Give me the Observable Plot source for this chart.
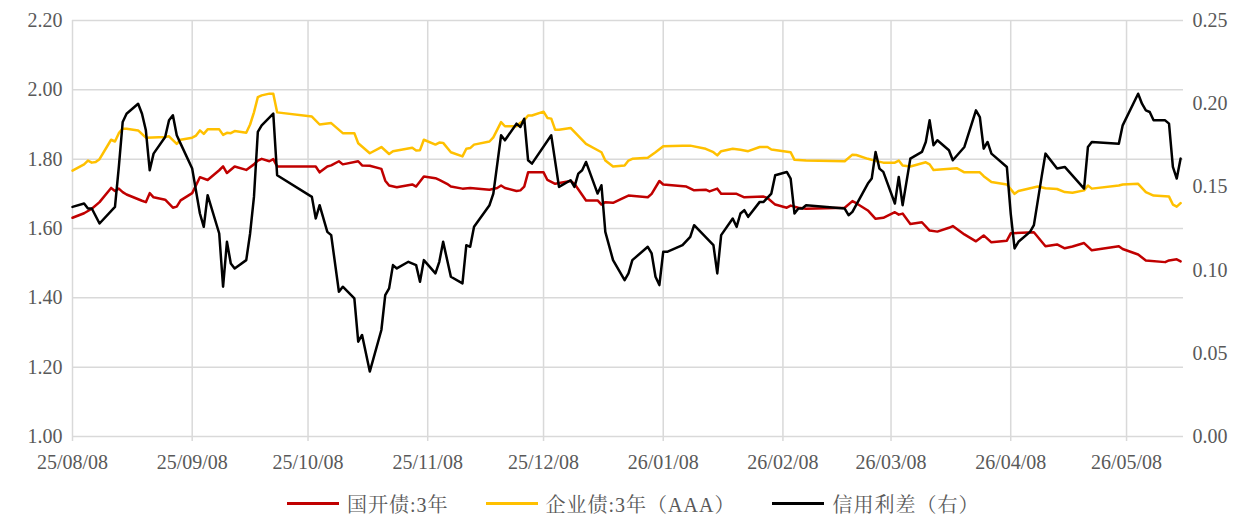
<!DOCTYPE html>
<html><head><meta charset="utf-8">
<script src="https://cdn.jsdelivr.net/npm/d3@7"></script>
<script src="https://cdn.jsdelivr.net/npm/@observablehq/plot@0.6"></script>
<style>
body{margin:0;background:#fff;}
#wrap{width:1240px;height:521px;position:relative;overflow:hidden;}
#chart svg text{font-family:"Liberation Serif","Times New Roman",serif !important;}
.legend{position:absolute;left:0;top:485px;width:1240px;height:36px;display:flex;align-items:center;padding-left:287px;box-sizing:border-box;
 font-family:"Liberation Serif","Noto Serif CJK SC","Noto Sans CJK SC",serif;font-size:20px;color:#595959;letter-spacing:1px;}
.item{display:flex;align-items:center;margin-right:37px;}
.sw{width:52px;height:3px;margin-right:8px;}
</style></head><body><div id="wrap"><div id="chart"></div><div class="legend" id="legend"></div></div>
<script>
const seriesNames = ["国开债:3年", "企业债:3年（AAA）", "信用利差（右）"];
const seriesColors = ["#c00000", "#ffc000", "#000000"];
const monthTicks = ["2025-08-08","2025-09-08","2025-10-08","2025-11-08","2025-12-08","2026-01-08","2026-02-08","2026-03-08","2026-04-08","2026-05-08"];
const leftTicks = [1.00,1.20,1.40,1.60,1.80,2.00,2.20];
const rightTicks = [0.00,0.05,0.10,0.15,0.20,0.25];

const cdbDates = ["2025-08-08","2025-08-11","2025-08-13","2025-08-15","2025-08-18","2025-08-19","2025-08-20","2025-08-21","2025-08-22","2025-08-26","2025-08-27","2025-08-28","2025-08-29","2025-09-01","2025-09-03","2025-09-04","2025-09-05","2025-09-08","2025-09-10","2025-09-12","2025-09-15","2025-09-16","2025-09-17","2025-09-19","2025-09-22","2025-09-24","2025-09-25","2025-09-26","2025-09-28","2025-09-29","2025-09-30","2025-10-09","2025-10-10","2025-10-11","2025-10-13","2025-10-14","2025-10-16","2025-10-17","2025-10-21","2025-10-22","2025-10-24","2025-10-27","2025-10-28","2025-10-29","2025-10-31","2025-11-04","2025-11-05","2025-11-07","2025-11-10","2025-11-11","2025-11-13","2025-11-14","2025-11-17","2025-11-19","2025-11-24","2025-11-26","2025-11-27","2025-11-28","2025-12-01","2025-12-02","2025-12-03","2025-12-04","2025-12-08","2025-12-09","2025-12-11","2025-12-15","2025-12-16","2025-12-19","2025-12-22","2025-12-23","2025-12-24","2025-12-26","2025-12-29","2025-12-30","2026-01-04","2026-01-05","2026-01-07","2026-01-08","2026-01-14","2026-01-16","2026-01-19","2026-01-20","2026-01-22","2026-01-23","2026-01-27","2026-01-29","2026-02-03","2026-02-04","2026-02-06","2026-02-09","2026-02-10","2026-02-12","2026-02-14","2026-02-24","2026-02-26","2026-02-27","2026-03-02","2026-03-04","2026-03-06","2026-03-09","2026-03-10","2026-03-11","2026-03-13","2026-03-16","2026-03-18","2026-03-20","2026-03-23","2026-03-24","2026-03-27","2026-03-30","2026-04-01","2026-04-03","2026-04-07","2026-04-08","2026-04-14","2026-04-17","2026-04-20","2026-04-22","2026-04-24","2026-04-27","2026-04-29","2026-05-06","2026-05-07","2026-05-11","2026-05-13","2026-05-18","2026-05-19","2026-05-21","2026-05-22"];
const cdbYield = [1.631,1.644,1.657,1.676,1.717,1.708,1.715,1.705,1.698,1.680,1.676,1.702,1.690,1.683,1.660,1.663,1.681,1.702,1.748,1.740,1.768,1.779,1.760,1.779,1.769,1.785,1.796,1.801,1.794,1.800,1.779,1.779,1.779,1.762,1.779,1.782,1.794,1.785,1.794,1.782,1.781,1.772,1.738,1.724,1.719,1.727,1.721,1.750,1.745,1.740,1.729,1.721,1.715,1.717,1.712,1.717,1.724,1.717,1.708,1.710,1.721,1.762,1.762,1.740,1.729,1.737,1.729,1.681,1.681,1.669,1.676,1.674,1.690,1.695,1.690,1.700,1.737,1.727,1.721,1.710,1.712,1.707,1.715,1.700,1.700,1.690,1.692,1.688,1.669,1.660,1.666,1.660,1.657,1.660,1.679,1.673,1.652,1.628,1.631,1.647,1.640,1.643,1.613,1.618,1.594,1.591,1.602,1.607,1.583,1.563,1.580,1.560,1.565,1.586,1.589,1.549,1.554,1.543,1.548,1.558,1.537,1.549,1.541,1.525,1.508,1.503,1.508,1.511,1.505];

const corpDates = ["2025-08-08","2025-08-11","2025-08-12","2025-08-13","2025-08-14","2025-08-15","2025-08-18","2025-08-19","2025-08-20","2025-08-21","2025-08-22","2025-08-25","2025-08-27","2025-09-01","2025-09-02","2025-09-04","2025-09-05","2025-09-08","2025-09-09","2025-09-10","2025-09-11","2025-09-12","2025-09-15","2025-09-16","2025-09-17","2025-09-18","2025-09-19","2025-09-22","2025-09-23","2025-09-24","2025-09-25","2025-09-26","2025-09-28","2025-09-29","2025-09-30","2025-10-09","2025-10-11","2025-10-14","2025-10-17","2025-10-20","2025-10-21","2025-10-24","2025-10-27","2025-10-29","2025-10-30","2025-11-04","2025-11-05","2025-11-06","2025-11-07","2025-11-10","2025-11-11","2025-11-12","2025-11-14","2025-11-17","2025-11-18","2025-11-19","2025-11-20","2025-11-24","2025-11-25","2025-11-27","2025-11-28","2025-12-01","2025-12-02","2025-12-03","2025-12-04","2025-12-05","2025-12-08","2025-12-09","2025-12-10","2025-12-11","2025-12-12","2025-12-15","2025-12-19","2025-12-23","2025-12-24","2025-12-26","2025-12-29","2025-12-30","2025-12-31","2026-01-04","2026-01-06","2026-01-08","2026-01-13","2026-01-15","2026-01-19","2026-01-21","2026-01-22","2026-01-23","2026-01-26","2026-01-28","2026-01-30","2026-02-02","2026-02-04","2026-02-05","2026-02-10","2026-02-11","2026-02-14","2026-02-24","2026-02-26","2026-02-27","2026-03-02","2026-03-04","2026-03-06","2026-03-09","2026-03-10","2026-03-11","2026-03-13","2026-03-17","2026-03-18","2026-03-19","2026-03-25","2026-03-27","2026-03-31","2026-04-01","2026-04-03","2026-04-07","2026-04-09","2026-04-10","2026-04-15","2026-04-17","2026-04-20","2026-04-22","2026-04-24","2026-04-27","2026-04-28","2026-04-29","2026-05-06","2026-05-07","2026-05-11","2026-05-13","2026-05-15","2026-05-19","2026-05-20","2026-05-21","2026-05-22"];
const corpYield = [1.767,1.785,1.796,1.790,1.792,1.800,1.856,1.851,1.875,1.888,1.888,1.883,1.862,1.864,1.866,1.844,1.856,1.862,1.868,1.883,1.873,1.886,1.886,1.870,1.876,1.875,1.881,1.876,1.900,1.935,1.979,1.984,1.989,1.989,1.935,1.923,1.900,1.904,1.875,1.875,1.846,1.817,1.835,1.815,1.823,1.833,1.825,1.826,1.856,1.842,1.848,1.847,1.820,1.808,1.830,1.832,1.842,1.851,1.863,1.907,1.895,1.895,1.905,1.912,1.926,1.926,1.937,1.919,1.917,1.885,1.885,1.890,1.844,1.820,1.796,1.779,1.782,1.796,1.801,1.804,1.820,1.837,1.839,1.839,1.830,1.820,1.811,1.823,1.830,1.827,1.823,1.835,1.835,1.828,1.820,1.798,1.796,1.794,1.813,1.812,1.801,1.795,1.790,1.790,1.796,1.782,1.779,1.791,1.785,1.769,1.774,1.762,1.762,1.751,1.734,1.727,1.700,1.708,1.721,1.716,1.714,1.705,1.703,1.710,1.724,1.715,1.724,1.727,1.729,1.705,1.695,1.692,1.669,1.663,1.673];

const spreadDates = ["2025-08-08","2025-08-11","2025-08-12","2025-08-13","2025-08-15","2025-08-19","2025-08-20","2025-08-21","2025-08-22","2025-08-25","2025-08-26","2025-08-27","2025-08-28","2025-08-29","2025-09-01","2025-09-02","2025-09-03","2025-09-04","2025-09-05","2025-09-08","2025-09-10","2025-09-11","2025-09-12","2025-09-15","2025-09-16","2025-09-17","2025-09-18","2025-09-19","2025-09-22","2025-09-23","2025-09-24","2025-09-25","2025-09-26","2025-09-29","2025-09-30","2025-10-09","2025-10-10","2025-10-11","2025-10-13","2025-10-14","2025-10-16","2025-10-17","2025-10-20","2025-10-21","2025-10-22","2025-10-24","2025-10-27","2025-10-28","2025-10-29","2025-10-30","2025-10-31","2025-11-03","2025-11-05","2025-11-06","2025-11-07","2025-11-10","2025-11-11","2025-11-12","2025-11-14","2025-11-17","2025-11-18","2025-11-19","2025-11-20","2025-11-24","2025-11-25","2025-11-27","2025-11-28","2025-12-01","2025-12-02","2025-12-03","2025-12-04","2025-12-05","2025-12-10","2025-12-12","2025-12-15","2025-12-16","2025-12-17","2025-12-18","2025-12-19","2025-12-22","2025-12-23","2025-12-24","2025-12-26","2025-12-29","2025-12-30","2025-12-31","2026-01-04","2026-01-05","2026-01-06","2026-01-07","2026-01-08","2026-01-09","2026-01-13","2026-01-15","2026-01-16","2026-01-21","2026-01-22","2026-01-23","2026-01-26","2026-01-27","2026-01-28","2026-01-29","2026-01-30","2026-02-02","2026-02-03","2026-02-05","2026-02-06","2026-02-09","2026-02-10","2026-02-11","2026-02-12","2026-02-13","2026-02-14","2026-02-24","2026-02-25","2026-02-26","2026-03-02","2026-03-03","2026-03-04","2026-03-05","2026-03-06","2026-03-09","2026-03-10","2026-03-11","2026-03-13","2026-03-16","2026-03-17","2026-03-18","2026-03-19","2026-03-20","2026-03-23","2026-03-24","2026-03-27","2026-03-30","2026-03-31","2026-04-01","2026-04-02","2026-04-03","2026-04-07","2026-04-08","2026-04-09","2026-04-10","2026-04-13","2026-04-14","2026-04-16","2026-04-17","2026-04-20","2026-04-22","2026-04-27","2026-04-28","2026-04-29","2026-05-06","2026-05-07","2026-05-11","2026-05-12","2026-05-13","2026-05-14","2026-05-15","2026-05-18","2026-05-19","2026-05-20","2026-05-21","2026-05-22"];
const spreadValues = [0.138,0.140,0.137,0.137,0.128,0.138,0.162,0.189,0.194,0.200,0.194,0.184,0.160,0.170,0.180,0.190,0.193,0.181,0.176,0.161,0.134,0.126,0.145,0.122,0.090,0.117,0.104,0.101,0.106,0.122,0.144,0.183,0.187,0.194,0.157,0.144,0.131,0.139,0.123,0.121,0.087,0.090,0.083,0.057,0.061,0.039,0.064,0.085,0.089,0.103,0.101,0.105,0.103,0.093,0.106,0.098,0.105,0.117,0.096,0.092,0.115,0.114,0.126,0.139,0.146,0.181,0.178,0.188,0.186,0.191,0.166,0.164,0.181,0.150,0.154,0.150,0.158,0.160,0.165,0.146,0.151,0.123,0.106,0.094,0.098,0.106,0.114,0.110,0.096,0.091,0.111,0.111,0.115,0.120,0.127,0.115,0.098,0.121,0.131,0.126,0.134,0.136,0.132,0.141,0.141,0.146,0.157,0.159,0.155,0.134,0.137,0.137,0.139,0.137,0.133,0.135,0.152,0.155,0.171,0.161,0.159,0.140,0.156,0.139,0.167,0.171,0.177,0.190,0.175,0.178,0.172,0.166,0.174,0.196,0.192,0.173,0.177,0.170,0.162,0.134,0.113,0.117,0.123,0.127,0.156,0.170,0.161,0.162,0.149,0.174,0.177,0.176,0.187,0.206,0.200,0.196,0.195,0.190,0.190,0.188,0.162,0.155,0.167];

const parse = d3.utcParse("%Y-%m-%d");
const LEFT = [1.0, 2.2], RIGHT = [0.0, 0.25];
const rightToLeft = s => LEFT[0] + (s - RIGHT[0]) * (LEFT[1] - LEFT[0]) / (RIGHT[1] - RIGHT[0]);
const leftToRight = v => RIGHT[0] + (v - LEFT[0]) * (RIGHT[1] - RIGHT[0]) / (LEFT[1] - LEFT[0]);

const cdb = cdbDates.map((d, i) => ({date: parse(d), v: cdbYield[i]}));
const corp = corpDates.map((d, i) => ({date: parse(d), v: corpYield[i]}));
const spread = spreadDates.map((d, i) => ({date: parse(d), v: rightToLeft(spreadValues[i])}));
const xTicks = monthTicks.map(parse);
const fmt = d3.utcFormat("%y/%m/%d");

const chart = Plot.plot({
  width: 1240, height: 485,
  marginLeft: 72, marginRight: 57, marginTop: 20, marginBottom: 49,
  x: {type: "utc", domain: [parse("2025-08-08"), new Date(Date.UTC(2026, 4, 22, 18))], label: null},
  y: {domain: LEFT, label: null},
  style: {fontFamily: "Liberation Serif, Times New Roman, serif", fontSize: "20px", color: "#595959", background: "#fff", overflow: "visible"},
  marks: [
    Plot.gridY(leftTicks, {stroke: "#d9d9d9", strokeOpacity: 1, strokeWidth: 1.5}),
    Plot.gridX(xTicks, {stroke: "#d9d9d9", strokeOpacity: 1, strokeWidth: 1.5}),
    Plot.axisX(xTicks, {tickSize: 5, tickPadding: 13, stroke: "#d9d9d9", strokeWidth: 1.5, fill: "#595959", tickFormat: fmt, letterSpacing: 0.5, label: null}),
    Plot.axisY(leftTicks, {anchor: "left", tickSize: 0, tickPadding: 10, tickFormat: d => d.toFixed(2), fill: "#595959", label: null}),
    Plot.axisY(rightTicks.map(rightToLeft), {anchor: "right", tickSize: 0, tickPadding: 9, tickFormat: d => leftToRight(d).toFixed(2), fill: "#595959", label: null}),
    Plot.lineY(corp, {x: "date", y: "v", stroke: seriesColors[1], strokeWidth: 2.5}),
    Plot.lineY(cdb, {x: "date", y: "v", stroke: seriesColors[0], strokeWidth: 2.5}),
    Plot.lineY(spread, {x: "date", y: "v", stroke: seriesColors[2], strokeWidth: 2.5})
  ]
});
document.getElementById("chart").appendChild(chart);

const legend = document.getElementById("legend");
seriesNames.forEach((n, i) => {
  const it = document.createElement("div"); it.className = "item";
  const sw = document.createElement("div"); sw.className = "sw"; sw.style.background = seriesColors[i];
  const tx = document.createElement("span"); tx.textContent = n;
  it.appendChild(sw); it.appendChild(tx); legend.appendChild(it);
});
</script></body></html>
